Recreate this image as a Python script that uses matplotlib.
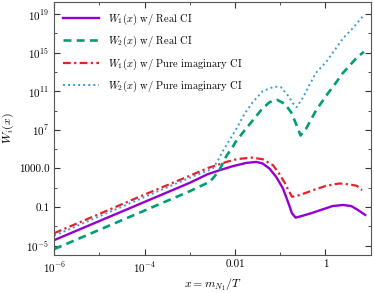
import numpy as np
import matplotlib
matplotlib.use("Agg")
import matplotlib.pyplot as plt
from matplotlib.ticker import FixedLocator, FixedFormatter, NullFormatter

plt.rcParams.update({
    "font.family": "serif",
    "font.serif": ["cmr10", "DejaVu Serif"],
    "mathtext.fontset": "cm",
    "axes.unicode_minus": False,
    "axes.formatter.use_mathtext": True,
})

# log10 values
w1_real_lx = [-6, -5, -4, -3, -2.6, -2.34, -2.05, -1.75, -1.53, -1.39, -1.24, -1.09,
              -0.94, -0.83, -0.74, -0.66, -0.50, -0.28, -0.06, 0.16, 0.39, 0.57, 0.72, 0.88]
w1_real_ly = [-4.42, -2.44, -0.46, 1.52, 2.42, 2.82, 3.24, 3.58, 3.68, 3.52, 3.0, 2.13,
              0.94, -0.44, -1.64, -2.09, -1.89, -1.58, -1.23, -0.89, -0.78, -0.89, -1.3, -1.81]

w2_real_lx = [-6, -5, -4, -3, -2.56, -2.45, -2.34, -2.19, -2.05, -1.99, -1.79, -1.61, -1.42,
              -1.24, -1.07, -0.90, -0.76, -0.65, -0.55, -0.43, -0.21, 0.02, 0.24, 0.37,
              0.68, 0.85]
w2_real_ly = [-5.35, -3.35, -1.35, 0.65, 1.62, 2.2, 2.9, 4.3, 5.25, 5.73, 6.94, 7.97, 9.07,
              9.86, 10.11, 9.70, 8.83, 7.63, 6.42, 7.11, 9.0, 10.56, 11.93, 12.8,
              14.41, 15.09]

w1_imag_lx = [-6, -5, -4, -3, -2.6, -2.19, -1.97, -1.64, -1.39, -1.16, -1.02, -0.90, -0.83,
              -0.74, -0.57, -0.35, -0.28, 0.02, 0.31, 0.53, 0.69, 0.81]
w1_imag_ly = [-3.7, -1.7, 0.3, 2.25, 3.05, 3.68, 3.96, 4.13, 3.96, 3.34, 2.44, 1.52, 0.84,
              0.07, 0.25, 0.62, 0.75, 1.21, 1.45, 1.35, 1.21, 0.76]

w2_imag_lx = [-6, -5, -4, -3, -2.49, -2.37, -2.26, -2.15, -1.97, -1.79, -1.61, -1.39, -1.13,
              -0.98, -0.83, -0.71, -0.64, -0.50, -0.35, -0.21, 0.02, 0.39, 0.62, 0.85]
w2_imag_ly = [-3.95, -1.95, 0.05, 2.05, 3.0, 3.9, 4.9, 5.73, 7.11, 8.66, 9.86, 11.0, 11.49,
              11.41, 10.56, 9.70, 9.35, 10.32, 11.69, 12.9, 14.06, 16.48, 17.6, 18.9]

labels = [r"$W_1(x)$ w/ Real CI", r"$W_2(x)$ w/ Real CI",
          r"$W_1(x)$ w/ Pure imaginary CI", r"$W_2(x)$ w/ Pure imaginary CI"]

xtick_exp = [-6, -4, -2, 0]
xtick_labels = [r"$10^{-6}$", r"$10^{-4}$", "0.01", "1"]
xminor_exp = [-5, -3, -1, 1]
ytick_exp = [-5, -1, 3, 7, 11, 15, 19]
ytick_labels = [r"$10^{-5}$", "0.1", "1000.0", r"$10^{7}$", r"$10^{11}$", r"$10^{15}$", r"$10^{19}$"]
yminor_exp = [-3, 1, 5, 9, 13, 17]

fig = plt.figure(figsize=(3.74, 2.93), dpi=100)
ax = fig.add_axes([0.145, 0.1297, 0.846, 0.862])

def p(lx, ly):
    return 10.0 ** np.array(lx), 10.0 ** np.array(ly)

ax.plot(*p(w1_real_lx, w1_real_ly), color="#9400D3", lw=1.7, ls="-", label=labels[0])
ax.plot(*p(w2_real_lx, w2_real_ly), color="#009E73", lw=1.9, ls=(0, (3, 2)), label=labels[1])
ax.plot(*p(w1_imag_lx, w1_imag_ly), color="#E8202A", lw=1.6, ls=(0, (3.5, 1.5, 1, 1.5)), label=labels[2])
ax.plot(*p(w2_imag_lx, w2_imag_ly), color="#3A9AD9", lw=1.4, ls=(0, (1, 1.6)), label=labels[3])

ax.set_xscale("log")
ax.set_yscale("log")
ax.set_xlim(1e-6, 10)
ax.set_ylim(10 ** -5.96, 10 ** 20.2)

ax.xaxis.set_major_locator(FixedLocator([10.0 ** e for e in xtick_exp]))
ax.xaxis.set_major_formatter(FixedFormatter(xtick_labels))
ax.xaxis.set_minor_locator(FixedLocator([10.0 ** e for e in xminor_exp]))
ax.xaxis.set_minor_formatter(NullFormatter())
ax.yaxis.set_major_locator(FixedLocator([10.0 ** e for e in ytick_exp]))
ax.yaxis.set_major_formatter(FixedFormatter(ytick_labels))
ax.yaxis.set_minor_locator(FixedLocator([10.0 ** e for e in yminor_exp]))
ax.yaxis.set_minor_formatter(NullFormatter())

ax.tick_params(which="both", direction="in", top=True, right=True, labelsize=8, colors="#333333",
               labelcolor="black")
ax.tick_params(which="major", length=4, width=0.8)
ax.tick_params(which="minor", length=2.5, width=0.6)
for s in ax.spines.values():
    s.set_color("#555555")
    s.set_linewidth(0.8)

ax.set_xlabel(r"$x = m_{N_1}/T$", fontsize=8.5)
ax.set_ylabel(r"$W_i(x)$", fontsize=8.5)
ax.xaxis.set_label_coords(0.5, -0.085)
ax.yaxis.set_label_coords(-0.12, 0.5)

ax.legend(loc="upper left", frameon=False, fontsize=7.5, handlelength=3.4,
          labelspacing=0.7, handletextpad=0.9, borderaxespad=0.45)

fig.savefig("out.png", dpi=100)
